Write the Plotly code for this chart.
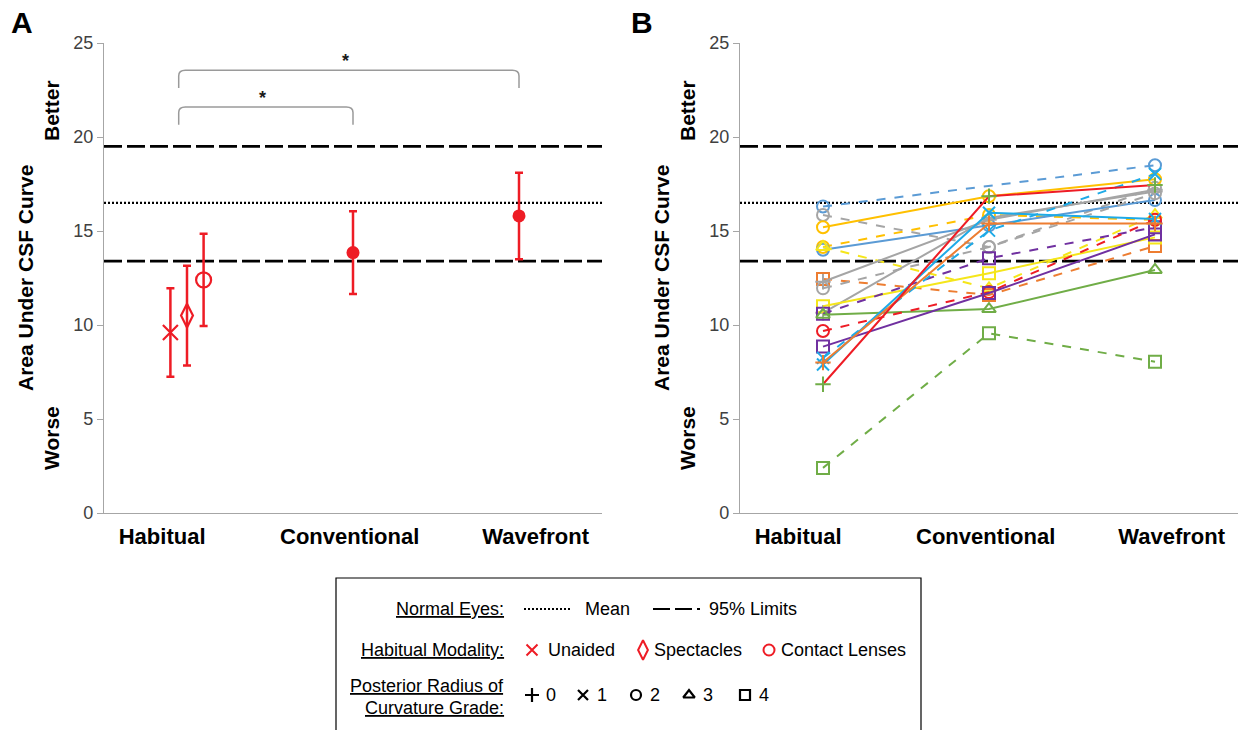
import plotly.graph_objects as go

W, H = 1245, 730
FONT = "Arial, 'Liberation Sans', sans-serif"

# ---------------- data ----------------
CATEGORIES = ["Habitual", "Conventional", "Wavefront"]
CAT_X = [1, 2, 3]
CAT_LABEL_X = [0.85, 1.98, 3.1]
Y_TICKS = [0, 5, 10, 15, 20, 25]
NORMAL_MEAN = 16.5
NORMAL_95 = [13.4, 19.5]

# Panel A
HAB_MODALITY = ["Unaided", "Spectacles", "Contact Lenses"]
HAB_MEAN = [9.6, 10.5, 12.4]
HAB_SD = [2.35, 2.65, 2.45]
CORRECTION = ["Conventional", "Wavefront"]
CORR_MEAN = [13.85, 15.8]
CORR_SD = [2.2, 2.3]
SIG_LABEL = ["*", "*"]

# Panel B (individual eyes)
EYE_HAB = [16.3, 15.85, 15.2, 14.15, 14.0, 14.15, 12.45, 12.3, 11.95, 10.65,
           11.0, 10.6, 10.55, 9.68, 8.85, 8.25, 7.9, 8.0, 6.85, 2.4]
EYE_CONV = [None, 14.15, 16.85, 15.85, 15.3, 11.95, 11.6, 15.6, 14.15, 15.7,
            12.75, 13.55, 10.85, 11.75, 11.7, 15.02, 15.97, 15.4, 16.85, 9.56]
EYE_WAVE = [18.5, 17.3, 17.75, 15.6, 16.65, 15.85, 14.2, 17.2, 17.0, 17.1,
            14.66, 15.2, 12.93, 15.6, 14.82, 18.03, 15.64, 15.4, 17.45, 8.05]
EYE_GRADE = [2, 2, 2, 2, 2, 3, 4, 0, 2, 0,
             4, 4, 3, 2, 4, 1, 1, 0, 0, 4]

# ---------------- styles ----------------
BLUE, GRAY, GOLD, ORANGE = "#5B9BD5", "#A5A5A5", "#FFC000", "#ED7D31"
YELLOW, PURPLE, GREEN, RED, CYAN = "#F5E61A", "#7030A0", "#70AD47", "#EE1C25", "#1EAAE7"
EYE_COLOR = [BLUE, GRAY, GOLD, GOLD, BLUE, YELLOW, ORANGE, GRAY, GRAY, GRAY,
             YELLOW, PURPLE, GREEN, RED, PURPLE, CYAN, CYAN, ORANGE, RED, GREEN]
EYE_MARKER_COLOR = EYE_COLOR[:18] + [GREEN, GREEN]
EYE_DASH = ["dash", "dash", "solid", "dash", "solid", "dash", "dash", "solid", "dash", "solid",
            "solid", "dash", "solid", "dash", "solid", "dash", "solid", "solid", "solid", "dash"]
GRADE_SYMBOL = ["cross-thin-open", "x-thin-open", "circle-open", "triangle-up-open", "square-open"]
GRADE_SIZE = [11, 12, 12, 12, 12]

AX_GRAY = "#A6A6A6"
TICK_COLOR = "#404040"

A_DOM = [104 / W, 602 / W]
B_DOM = [740 / W, 1238 / W]
Y_DOM = [1 - 513 / H, 1 - 43 / H]

fig = go.Figure()

# ---------- panel A ----------
offsets = [-0.1, 0.0, 0.1]
hab_symbols = ["x-thin-open", "diamond-tall-open", "circle-open"]
hab_sizes = [15, 17, 15]
for i, name in enumerate(HAB_MODALITY):
    fig.add_trace(go.Scatter(
        x=[CAT_X[0] + offsets[i]], y=[HAB_MEAN[i]], mode="markers", name=name,
        marker=dict(symbol=hab_symbols[i], size=hab_sizes[i], color=RED,
                    line=dict(color=RED, width=2.2)),
        error_y=dict(type="data", array=[HAB_SD[i]], color=RED, thickness=2.5, width=4),
        xaxis="x", yaxis="y", showlegend=False))
fig.add_trace(go.Scatter(
    x=[CAT_X[CATEGORIES.index(c)] for c in CORRECTION], y=CORR_MEAN, mode="markers",
    marker=dict(symbol="circle", size=13, color=RED),
    error_y=dict(type="data", array=CORR_SD, color=RED, thickness=2.5, width=4),
    xaxis="x", yaxis="y", showlegend=False))

# ---------- panel B ----------
for i in range(len(EYE_HAB)):
    g = EYE_GRADE[i]
    fig.add_trace(go.Scatter(
        x=CAT_X, y=[EYE_HAB[i], EYE_CONV[i], EYE_WAVE[i]], mode="lines+markers",
        connectgaps=True,
        line=dict(color=EYE_COLOR[i], width=2, dash=EYE_DASH[i]),
        marker=dict(symbol=GRADE_SYMBOL[g], size=GRADE_SIZE[g], color=EYE_MARKER_COLOR[i],
                    line=dict(color=EYE_MARKER_COLOR[i], width=2)),
        xaxis="x2", yaxis="y2", showlegend=False))

shapes = []
annotations = []

# normal-eye reference lines in both panels
for xr, yr in [("x", "y"), ("x2", "y2")]:
    for v in NORMAL_95:
        shapes.append(dict(type="line", xref=f"{xr} domain", yref=yr, x0=0, x1=1, y0=v, y1=v,
                           line=dict(color="black", width=2.6, dash="18px,5px"), layer="below"))
    shapes.append(dict(type="line", xref=f"{xr} domain", yref=yr, x0=0, x1=1,
                       y0=NORMAL_MEAN, y1=NORMAL_MEAN,
                       line=dict(color="black", width=2.2, dash="2px,2px"), layer="below"))

# significance brackets (panel A)
bracket_tops = [21.6, 23.55]
for k, target in enumerate(CORRECTION):
    x0 = CAT_X[0] - 0.05
    x1 = CAT_X[CATEGORIES.index(target)]
    top = bracket_tops[k]
    leg = top - 0.95
    r = 0.3
    path = (f"M {x0},{leg} L {x0},{top - r} Q {x0},{top} {x0 + 0.04},{top} "
            f"L {x1 - 0.04},{top} Q {x1},{top} {x1},{top - r} L {x1},{leg}")
    shapes.append(dict(type="path", xref="x", yref="y", path=path,
                       line=dict(color="#9A9A9A", width=1.5)))
    annotations.append(dict(xref="x", yref="y", x=(x0 + x1) / 2 - 0.02, y=top + 0.5,
                            text="<b>" + SIG_LABEL[k] + "</b>", showarrow=False,
                            font=dict(family=FONT, size=18, color="#1a1a1a")))

# axis titles & panel letters (pixel coordinates on overlay axis)
def ptxt(x, y, text, size, angle=0, bold=True, color="black", xanchor="center", yanchor="middle"):
    annotations.append(dict(xref="x3", yref="y3", x=x, y=y, text=f"<b>{text}</b>" if bold else text,
                            showarrow=False, textangle=angle, xanchor=xanchor, yanchor=yanchor,
                            font=dict(family=FONT, size=size, color=color)))

for ax_x, letter, lx in [(104, "A", 22), (740, "B", 642)]:
    ptxt(lx, 22, letter, 30)
    ptxt(ax_x - 79, 278, "Area Under CSF Curve", 21, angle=-90)
    ptxt(ax_x - 53, 111, "Better", 21, angle=-90)
    ptxt(ax_x - 53, 438, "Worse", 21, angle=-90)

# ---------- legend box ----------
LX, LY0 = 336, 578
shapes.append(dict(type="rect", xref="x3", yref="y3", x0=LX, x1=921, y0=LY0, y1=740,
                   line=dict(color="black", width=1.2), fillcolor="white", layer="below"))
row_y = [609, 650, 695]
LEG_FS = 18
ptxt(506, row_y[0], "<u>Normal Eyes:</u>", LEG_FS, bold=False, xanchor="right")
ptxt(506, row_y[1], "<u>Habitual Modality:</u>", LEG_FS, bold=False, xanchor="right")
ptxt(506, 686, "<u>Posterior Radius of</u>", LEG_FS, bold=False, xanchor="right")
ptxt(506, 708, "<u>Curvature Grade:</u>", LEG_FS, bold=False, xanchor="right")

shapes.append(dict(type="line", xref="x3", yref="y3", x0=524, x1=572, y0=row_y[0], y1=row_y[0],
                   line=dict(color="black", width=2, dash="2px,2px")))
ptxt(583, row_y[0], "Mean", LEG_FS, bold=False, xanchor="left")
shapes.append(dict(type="line", xref="x3", yref="y3", x0=653, x1=700, y0=row_y[0], y1=row_y[0],
                   line=dict(color="black", width=2.2, dash="17px,5px")))
ptxt(707, row_y[0], "95% Limits", LEG_FS, bold=False, xanchor="left")

leg_hab_x = [532, 643, 769]
leg_hab_text_x = [546, 652, 779]
for i, name in enumerate(HAB_MODALITY):
    fig.add_trace(go.Scatter(
        x=[leg_hab_x[i]], y=[row_y[1]], mode="markers",
        marker=dict(symbol=hab_symbols[i], size=[11, 14, 11][i], color=RED,
                    line=dict(color=RED, width=2)),
        xaxis="x3", yaxis="y3", showlegend=False, hoverinfo="skip"))
    ptxt(leg_hab_text_x[i], row_y[1], name, LEG_FS, bold=False, xanchor="left")

leg_grade_x = [532, 583, 636, 689, 745]
for g in range(5):
    fig.add_trace(go.Scatter(
        x=[leg_grade_x[g]], y=[row_y[2]], mode="markers",
        marker=dict(symbol=GRADE_SYMBOL[g], size=10, color="black",
                    line=dict(color="black", width=2.2)),
        xaxis="x3", yaxis="y3", showlegend=False, hoverinfo="skip"))
    ptxt(leg_grade_x[g] + 12, row_y[2], str(g), LEG_FS, bold=False, xanchor="left")

yaxis_common = dict(range=[0, 25], tickvals=Y_TICKS, showgrid=False, zeroline=False,
                    showline=True, linecolor=AX_GRAY, linewidth=1.3, ticks="outside",
                    ticklen=6, tickcolor=AX_GRAY, tickwidth=1.3,
                    tickfont=dict(family=FONT, size=18, color=TICK_COLOR), domain=Y_DOM,
                    fixedrange=True, automargin=False)
xaxis_common = dict(range=[0.5, 3.5], tickvals=CAT_LABEL_X, ticktext=[f"<b>{c}</b>" for c in CATEGORIES],
                    showgrid=False, zeroline=False, showline=True, linecolor=AX_GRAY,
                    linewidth=1.3, ticks="", ticklabelstandoff=3,
                    tickfont=dict(family=FONT, size=22, color="black"), fixedrange=True,
                    automargin=False)

fig.update_layout(
    width=W, height=H, margin=dict(l=0, r=0, t=0, b=0, pad=0, autoexpand=False),
    paper_bgcolor="white", plot_bgcolor="rgba(0,0,0,0)",
    font=dict(family=FONT),
    xaxis=dict(domain=A_DOM, anchor="y", **xaxis_common),
    yaxis=dict(anchor="x", **yaxis_common),
    xaxis2=dict(domain=B_DOM, anchor="y2", **xaxis_common),
    yaxis2=dict(anchor="x2", **yaxis_common),
    xaxis3=dict(domain=[0, 1], range=[0, W], visible=False, anchor="y3", fixedrange=True),
    yaxis3=dict(domain=[0, 1], range=[H, 0], visible=False, anchor="x3", fixedrange=True),
    shapes=shapes, annotations=annotations, showlegend=False,
)

fig.write_html("out.html", config={"displayModeBar": False, "responsive": False},
               post_script="document.body.style.margin='0';document.body.style.overflow='hidden';")
